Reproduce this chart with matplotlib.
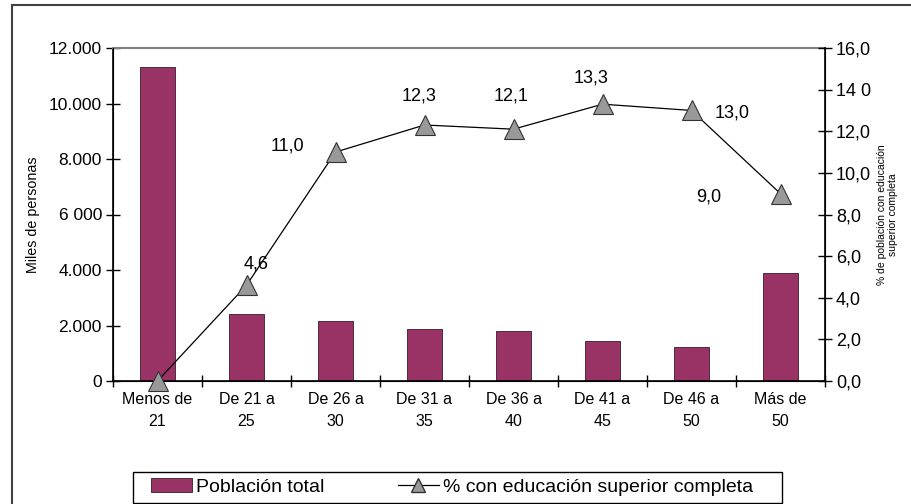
import numpy as np
import matplotlib
matplotlib.use("Agg")
import matplotlib.pyplot as plt
from matplotlib.patches import Rectangle
from matplotlib.lines import Line2D

plt.rcParams['font.family'] = ['Liberation Sans', 'DejaVu Sans']

categorias = ["Menos de\n21", "De 21 a\n25", "De 26 a\n30", "De 31 a\n35",
              "De 36 a\n40", "De 41 a\n45", "De 46 a\n50", "Más de\n50"]
poblacion = [11300, 2400, 2150, 1860, 1800, 1440, 1220, 3880]
porcentaje = [0.0, 4.6, 11.0, 12.3, 12.1, 13.3, 13.0, 9.0]
etiquetas = ["", "4,6", "11,0", "12,3", "12,1", "13,3", "13,0", "9,0"]
# desplazamiento de etiquetas en pixeles
etq_offset = [(0, 0), (10, 21), (-48, 6), (-5, 29), (-2, 33), (-11, 26), (41, -3), (-72, -3)]
y1_ticks = ["0", "2.000", "4.000", "6 000", "8.000", "10.000", "12.000"]
y2_ticks = ["0,0", "2,0", "4,0", "6,0", "8,0", "10,0", "12,0", "14 0", "16,0"]

fig = plt.figure(figsize=(9.11, 5.04), dpi=100)
ax = fig.add_axes([113/911, 1 - 381/504, 712/911, 333/504])
ax2 = ax.twinx()

x = np.arange(len(categorias))
bar_color = "#993366"
ax.bar(x, poblacion, width=0.4, color=bar_color, edgecolor="#3a1a2a", linewidth=0.6, zorder=2)
ax.set_xlim(-0.5, 7.5)
ax.set_ylim(0, 12000)
ax.set_yticks(np.arange(0, 12001, 2000))
ax.set_yticklabels(y1_ticks, fontsize=12.5)
ax.set_xticks(x)
ax.set_xticklabels(categorias, fontsize=11.5, linespacing=1.6)
ax.set_xticks(np.arange(-0.5, 8, 1), minor=True)
ax.tick_params(axis='x', which='major', length=0, pad=8)
ax.tick_params(axis='x', which='minor', direction='inout', length=9, width=1)
ax.tick_params(axis='y', direction='inout', length=10, width=1, pad=3)
ax.set_ylabel("Miles de personas", fontsize=10.3, labelpad=6)
ax.spines['top'].set_color("#808080")
ax.spines['top'].set_linewidth(1.5)
for s in ['left', 'bottom']:
    ax.spines[s].set_linewidth(1.2)

ax2.plot(x, porcentaje, color="black", linewidth=0.9, marker="^", markersize=15,
         markerfacecolor="#999999", markeredgecolor="#333333", markeredgewidth=0.8,
         clip_on=False, zorder=3)
ax2.set_ylim(0, 16)
ax2.set_yticks(np.arange(0, 16.1, 2))
ax2.set_yticklabels(y2_ticks, fontsize=13)
ax2.tick_params(axis='y', direction='inout', length=10, width=1, pad=3)
ax2.spines['right'].set_linewidth(1.2)
ax2.spines['top'].set_visible(False)
ax2.set_ylabel("% de población con educación\nsuperior completa", fontsize=7.5, labelpad=4)

for xi, yi, t, off in zip(x, porcentaje, etiquetas, etq_offset):
    if t:
        ax2.annotate(t, (xi, yi), xytext=off, textcoords="offset pixels",
                     ha="center", va="center", fontsize=13)

# marco exterior
fig.patches.append(Rectangle((12/911, -0.1), 1.2, 1 - 5/504 + 0.1, transform=fig.transFigure,
                             fill=False, edgecolor="#404040", linewidth=1.5))

# recuadro de la leyenda
fig.patches.append(Rectangle((133/911, 1 - 503/504), (782 - 133)/911, 31/504,
                             transform=fig.transFigure, fill=False,
                             edgecolor="black", linewidth=1.0))

handles = [Rectangle((0, 0), 1, 1, facecolor=bar_color, edgecolor="#3a1a2a", linewidth=0.6),
           Line2D([], [], color="black", linewidth=0.9, marker="^", markersize=10,
                  markerfacecolor="#999999", markeredgecolor="#333333")]
leg = fig.legend(handles, ["Población total", "% con educación superior completa"],
                 loc="center left", bbox_to_anchor=(151/911, 1 - 487/504), ncol=2,
                 fontsize=14, frameon=False, columnspacing=3.8, handlelength=2.1,
                 handletextpad=0.2, borderpad=0, borderaxespad=0)

fig.savefig("out.png", dpi=100)
